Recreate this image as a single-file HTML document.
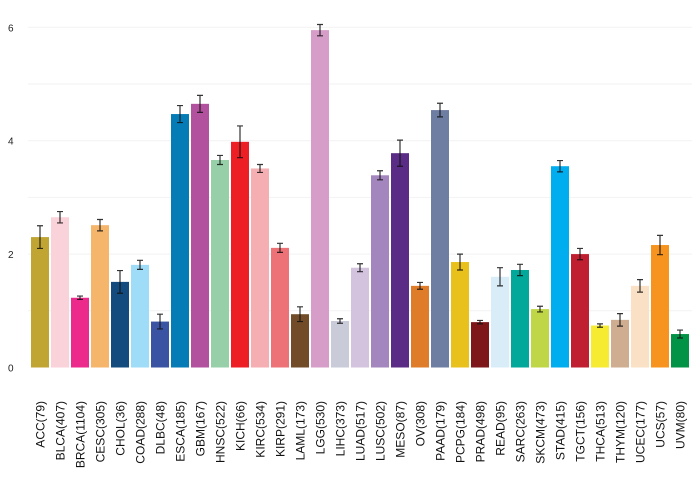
<!DOCTYPE html>
<html><head><meta charset="utf-8"><style>
body{margin:0;background:#fff}svg{display:block;font-family:"Liberation Sans",sans-serif}
</style></head><body>
<svg id="chart" width="700" height="480" viewBox="0 0 700 480"></svg>
<script>
const categories=["ACC(79)","BLCA(407)","BRCA(1104)","CESC(305)","CHOL(36)","COAD(288)","DLBC(48)","ESCA(185)","GBM(167)","HNSC(522)","KICH(66)","KIRC(534)","KIRP(291)","LAML(173)","LGG(530)","LIHC(373)","LUAD(517)","LUSC(502)","MESO(87)","OV(308)","PAAD(179)","PCPG(184)","PRAD(498)","READ(95)","SARC(263)","SKCM(473)","STAD(415)","TGCT(156)","THCA(513)","THYM(120)","UCEC(177)","UCS(57)","UVM(80)"];
const values=[2.30,2.65,1.23,2.51,1.51,1.81,0.81,4.47,4.65,3.66,3.98,3.51,2.11,0.94,5.95,0.82,1.76,3.39,3.78,1.44,4.54,1.86,0.80,1.60,1.72,1.03,3.55,2.00,0.74,0.84,1.44,2.16,0.59];
const errors=[0.2,0.1,0.03,0.1,0.2,0.08,0.13,0.15,0.15,0.08,0.28,0.07,0.08,0.13,0.1,0.04,0.07,0.08,0.23,0.06,0.12,0.14,0.03,0.16,0.1,0.05,0.1,0.1,0.03,0.11,0.11,0.17,0.07];
const colors=["#c0a533","#fad2da","#ec2a8c","#f5b56b","#134b7f","#9fdcf7","#3a53a3","#067cb6","#b2519d","#97d0a8","#ed1e24","#f5aeb2","#ec7277","#724c28","#d59dc7","#c9cbd9","#d4c3df","#a386bd","#5b2c86","#de7c2a","#6e7da2","#e8c11d","#7e1719","#d9edf9","#02a99b","#bfd747","#00adee","#bf1f30","#f6eb30","#cead91","#fae0c4","#f6941f","#039347"];
const yTicks=[0,2,4,6];
const y0=367.5,kY=56.7,x0=31,step=20,bw=18;
const y=v=>y0-v*kY, x=i=>x0+i*step;
const svg=document.getElementById('chart'),NS="http://www.w3.org/2000/svg";
function mk(t,a){const e=document.createElementNS(NS,t);for(const k in a)e.setAttribute(k,a[k]);svg.appendChild(e);return e;}
for(let v=1;v<=6;v++){const g=mk('line',{x1:28,x2:692,y1:y(v),y2:y(v),stroke:'#f2f2f2','stroke-width':1});

}
yTicks.forEach(t=>{const e=mk('text',{x:8,y:y(t)+4,'font-size':10,fill:'#222'});e.textContent=t;

});
categories.forEach((c,i)=>{
const b=mk('rect',{x:x(i),y:y(values[i]),width:bw,height:values[i]*kY,fill:colors[i]});


const cx=x(i)+bw/2,t=y(values[i]+errors[i]),bo=y(values[i]-errors[i]);
const eb=mk('path',{d:`M${cx},${t}V${bo}M${cx-3},${t}H${cx+3}M${cx-3},${bo}H${cx+3}`,stroke:'#111','stroke-width':1.2,fill:'none','stroke-opacity':0.85});


const l=mk('text',{x:0,y:0,'font-size':12,fill:'#111','text-anchor':'start',transform:`translate(${cx+4.5},401) rotate(-90)`});
l.setAttribute('text-anchor','end');
l.textContent=c;


});
</script>
</body></html>
